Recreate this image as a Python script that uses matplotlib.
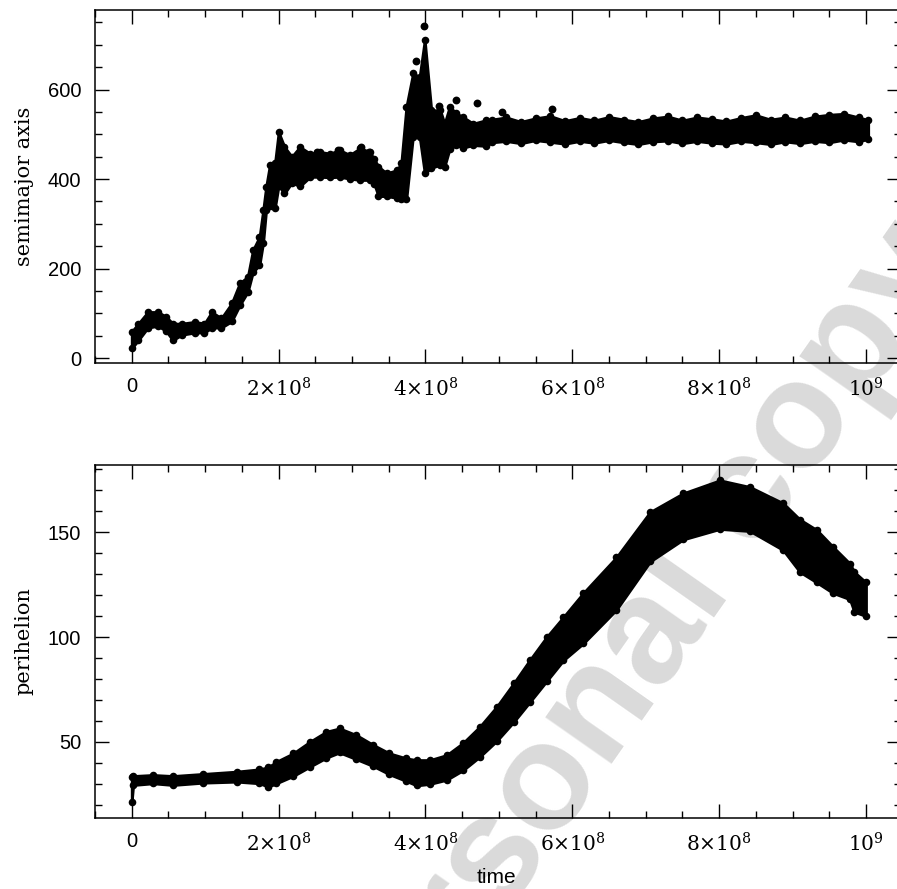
import numpy as np
import matplotlib
matplotlib.use("Agg")
import matplotlib.pyplot as plt
from matplotlib.ticker import MultipleLocator

# time is given in units of 1e8
# semimajor axis: upper / lower edge of the band of points
t_a = [0.0, 0.09, 0.22, 0.36, 0.47, 0.56, 0.68, 0.86, 0.99, 1.09, 1.22, 1.36,
       1.47, 1.58, 1.65, 1.74, 1.79, 1.83, 1.88, 1.95, 2.0, 2.08, 2.18, 2.29,
       2.43, 2.56, 2.70, 2.83, 2.97, 3.11, 3.24, 3.30, 3.36, 3.47, 3.61, 3.67,
       3.74, 3.83, 3.92, 3.99, 4.08, 4.20, 4.26, 4.33, 4.42, 4.51, 4.65, 4.83,
       4.9, 5.1, 5.3, 5.5, 5.7, 5.9, 6.1, 6.3, 6.5, 6.7, 6.9, 7.1, 7.3, 7.5,
       7.7, 7.9, 8.1, 8.3, 8.5, 8.7, 8.9, 9.1, 9.3, 9.5, 9.7, 9.9, 10.03]
a_hi = [59, 77, 103, 103, 92, 77, 77, 81, 77, 103, 89, 122,
        167, 182, 241, 271, 331, 383, 431, 435, 505, 472, 450, 472,
        457, 461, 457, 465, 454, 469, 461, 445, 428, 413, 420, 435,
        562, 636, 629, 711, 554, 554, 524, 562, 547, 539, 524, 532,
        533, 538, 528, 536, 541, 530, 537, 531, 539, 533, 528, 536, 540, 531,
        538, 534, 529, 537, 543, 533, 538, 531, 540, 544, 546, 538, 532]
a_lo = [22, 40, 68, 72, 60, 40, 52, 57, 57, 68, 68, 82,
        118, 148, 192, 208, 258, 330, 340, 335, 385, 368, 392, 384,
        405, 405, 404, 405, 401, 398, 398, 390, 362, 362, 358, 355,
        355, 495, 495, 413, 425, 432, 428, 468, 476, 470, 476, 474,
        482, 485, 480, 487, 483, 479, 485, 481, 487, 482, 478, 484, 486, 480,
        485, 481, 479, 485, 482, 478, 484, 480, 485, 482, 488, 484, 490]

# isolated points above the band
t_a_out = [2.53, 2.81, 3.12, 3.23, 3.87, 3.98, 4.19, 4.41, 4.70, 5.04, 5.73]
a_out = [461, 465, 471, 461, 664, 742, 563, 577, 569, 550, 557]

# perihelion: upper / lower edge of the band
t_q = [0.0, 0.02, 0.29, 0.56, 0.97, 1.43, 1.74, 1.86, 1.97, 2.2, 2.43, 2.65,
       2.83, 3.06, 3.29, 3.51, 3.74, 3.88, 4.06, 4.29, 4.51, 4.74, 4.97, 5.2,
       5.42, 5.65, 5.88, 6.15, 6.6, 7.06, 7.51, 8.01, 8.42, 8.87, 9.1, 9.33,
       9.55, 9.78, 9.84, 10.0]
q_hi = [33.5, 33.8, 34.3, 33.8, 34.8, 35.9, 37.0, 38.0, 40.6, 44.6, 50.2, 54.9,
        56.5, 53.3, 48.6, 44.6, 42.2, 41.4, 41.4, 43.8, 49.5, 57.3, 66.8, 77.9,
        89.0, 100.0, 109.6, 121, 138, 159.6, 168.5, 174.7, 171.5, 163.8, 156, 151,
        143, 135, 131, 126]
q_lo = [21.6, 29.5, 30.3, 29.5, 30.6, 31.1, 30.3, 28.7, 30.3, 33.8, 38.3, 42.5,
        45.0, 41.8, 38.5, 34.6, 31.4, 29.3, 30.0, 32.0, 36.5, 43.0, 50.5, 59.5,
        69.0, 79.0, 89.0, 97, 113, 136, 146.5, 151.5, 150.5, 141.5, 131, 126,
        121, 118, 112, 110]

x_ticks = [0, 2e8, 4e8, 6e8, 8e8, 1e9]
x_labels = ["0", r"$2{\times}10^{8}$", r"$4{\times}10^{8}$", r"$6{\times}10^{8}$",
            r"$8{\times}10^{8}$", r"$10^{9}$"]
a_ticks = [0, 200, 400, 600]
q_ticks = [50, 100, 150]

plt.rcParams['font.family'] = ['Liberation Sans', 'DejaVu Sans']
plt.rcParams['mathtext.fontset'] = 'dejavuserif'


def style_axes(ax, yticks, yminor, ylim):
    ax.set_xlim(-0.5e8, 10.477e8)
    ax.set_ylim(*ylim)
    ax.set_xticks(x_ticks)
    ax.set_xticklabels(x_labels)
    ax.xaxis.set_minor_locator(MultipleLocator(0.5e8))
    ax.set_yticks(yticks)
    ax.yaxis.set_minor_locator(MultipleLocator(yminor))
    ax.tick_params(which='both', direction='in', top=True, right=True,
                   width=1, labelsize=14.5)
    ax.tick_params(which='major', length=10, pad=10)
    ax.tick_params(which='minor', length=5)
    for s in ax.spines.values():
        s.set_linewidth(1.1)
    ax.set_facecolor('none')


def draw_band(ax, t, hi, lo):
    x = np.array(t) * 1e8
    ax.fill_between(x, lo, hi, color='k', lw=2, zorder=2)
    ax.scatter(x, hi, s=30, c='k', lw=0, zorder=3)
    ax.scatter(x, lo, s=30, c='k', lw=0, zorder=3)


fig = plt.figure(figsize=(8.97, 8.89), dpi=100)
ax1 = fig.add_axes([0.1059, 0.5917, 0.8986, 0.3971])
ax2 = fig.add_axes([0.1059, 0.0799, 0.8986, 0.3971])

draw_band(ax1, t_a, a_hi, a_lo)
ax1.scatter(np.array(t_a_out) * 1e8, a_out, s=32, c='k', lw=0, zorder=3)
style_axes(ax1, a_ticks, 50, (-11, 778))
ax1.set_ylabel("semimajor axis", family='DejaVu Serif', fontsize=15)
ax1.yaxis.set_label_coords(-0.076, 0.5)

draw_band(ax2, t_q, q_hi, q_lo)
style_axes(ax2, q_ticks, 10, (13.8, 182))
ax2.set_ylabel("perihelion", family='DejaVu Serif', fontsize=15)
ax2.yaxis.set_label_coords(-0.076, 0.5)
ax2.set_xlabel("time", fontsize=15, va='top')
ax2.xaxis.set_label_coords(0.498, -0.142)

# watermark behind the data
fig.text(0.706, 0.251, "personal copy", rotation=55, rotation_mode='anchor',
         ha='center', va='center', fontsize=110, fontweight='bold',
         color='#dadada', zorder=-1, family='Liberation Sans')

fig.savefig("out.png", dpi=100)
